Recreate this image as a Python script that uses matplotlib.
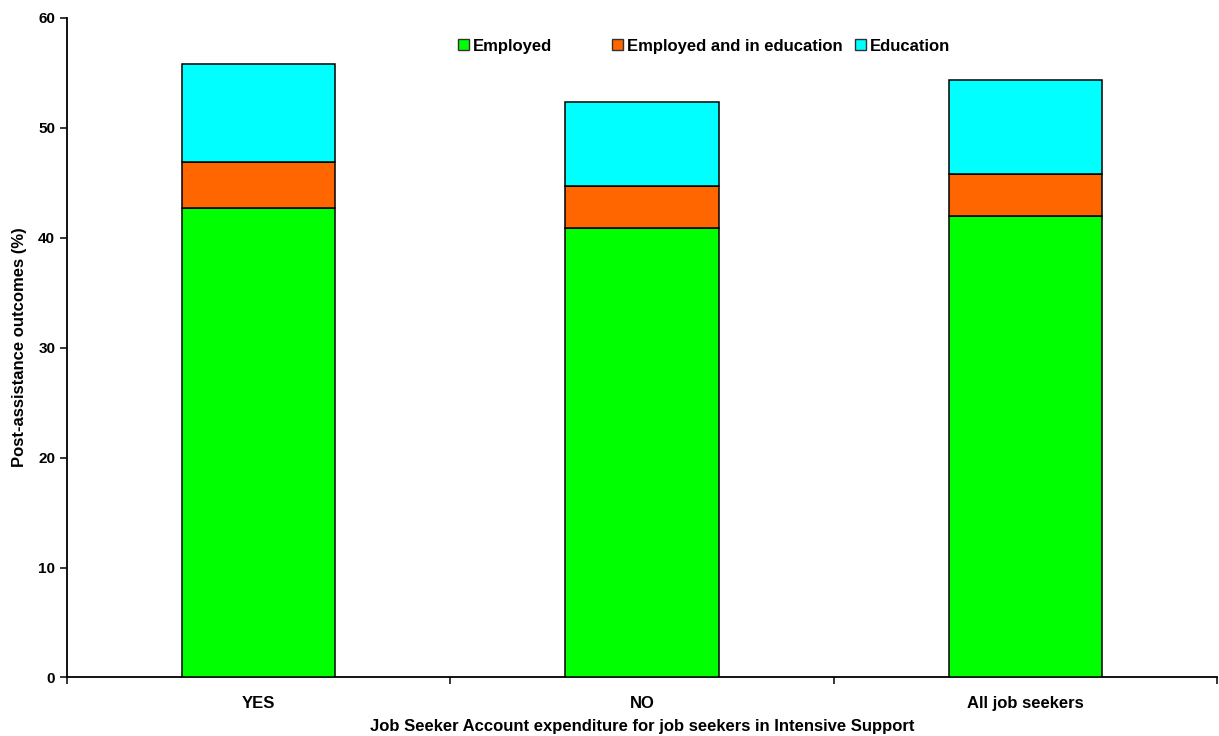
import numpy as np
import matplotlib.pyplot as plt
from matplotlib.patches import Patch
from matplotlib.legend import Legend

plt.rcParams['font.family'] = ['Liberation Sans', 'DejaVu Sans']
plt.rcParams['font.weight'] = 'bold'

# Outcome shares (%) by group
groups = ["YES", "NO", "All job seekers"]
employed = [42.7, 40.9, 42.0]
employed_edu = [4.2, 3.8, 3.8]
education = [8.9, 7.6, 8.5]

series_names = ["Employed", "Employed and in education", "Education"]
colors = ["#00ff00", "#ff6600", "#00ffff"]

fig = plt.figure(figsize=(12.19, 7.36), dpi=100)
ax = fig.add_axes([0.055, 0.0795, 0.9434, 0.8965])

x = np.arange(len(groups))
bottom = np.zeros(len(groups))
for vals, col in zip([employed, employed_edu, education], colors):
    ax.bar(x, vals, width=0.4, bottom=bottom, color=col,
           edgecolor="black", linewidth=1.1, zorder=3)
    bottom += np.array(vals)

ax.set_xlim(-0.5, len(groups) - 0.5)
ax.set_ylim(0, 60)
ax.set_yticks(np.arange(0, 61, 10))
ax.set_xticks(x)
ax.set_xticklabels(groups)
ax.set_xticks(np.arange(-0.5, len(groups)), minor=True)
ax.tick_params(axis="x", which="major", length=0, pad=13, labelsize=12)
ax.tick_params(axis="x", which="minor", length=5, width=1.1, direction="out")
ax.tick_params(axis="y", length=5, width=1.1, direction="out", labelsize=11)

for side in ["top", "right"]:
    ax.spines[side].set_visible(False)
for side in ["left", "bottom"]:
    ax.spines[side].set_linewidth(1.3)

ax.set_ylabel("Post-assistance outcomes (%)", fontsize=12, fontweight="bold", labelpad=8)
ax.set_xlabel("Job Seeker Account expenditure for job seekers in Intensive Support",
              fontsize=12, fontweight="bold", labelpad=6)

# one legend entry per box, spaced like the original key
legend_x = [0.340, 0.474, 0.685]
for name, col, lx in zip(series_names, colors, legend_x):
    h = Patch(facecolor=col, edgecolor="#333333", linewidth=1.0)
    leg = Legend(ax, [h], [name], loc="center left", bbox_to_anchor=(lx, 0.957),
                 frameon=False, fontsize=12, handlelength=0.65, handleheight=0.65,
                 handletextpad=0.25, borderpad=0, borderaxespad=0)
    ax.add_artist(leg)

fig.savefig("out.png", dpi=100)
